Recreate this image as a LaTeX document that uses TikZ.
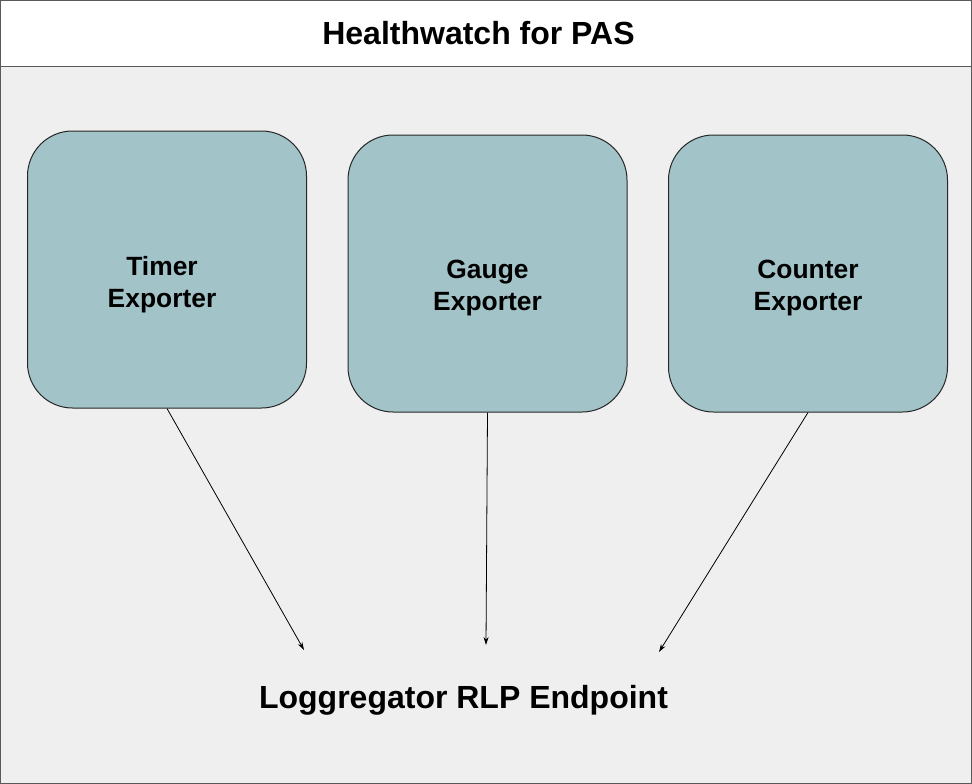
\documentclass[tikz,border=0pt]{standalone}
\usepackage{fontspec}
\setmainfont{Liberation Sans}
\usetikzlibrary{arrows.meta}
\definecolor{framegray}{HTML}{595959}
\definecolor{bodygray}{HTML}{EFEFEF}
\definecolor{boxcyan}{HTML}{A2C4C9}
\definecolor{boxline}{HTML}{262626}
\tikzset{
  exporter/.style={draw=boxline, line width=1pt, fill=boxcyan, rounded corners=45pt,
    minimum width=279pt, minimum height=277pt, inner sep=0pt, anchor=north west},
  boxtext/.style={font=\fontsize{26.4}{32}\selectfont\bfseries, align=center, text=black},
  bigtext/.style={font=\fontsize{32}{38}\selectfont\bfseries, text=black, inner sep=0pt},
  flow/.style={-{Stealth[length=8pt,width=5pt]}, line width=0.8pt, black}
}
\begin{document}
\begin{tikzpicture}[x=1pt,y=-1pt]
\useasboundingbox (0,0) rectangle (972,784);
% frame
\fill[white] (0,0) rectangle (972,66);
\fill[bodygray] (0,66) rectangle (972,784);
\draw[framegray, line width=1.3pt] (0.65,0.65) rectangle (971.35,783.35);
\draw[framegray, line width=1.3pt] (0,66.5) -- (972,66.5);
\node[bigtext] (title) at (478.5,33) {Healthwatch for PAS};
% boxes
\node[exporter, label={[boxtext, xshift=-5pt, yshift=-15pt]center:Timer\\Exporter}] (timer) at (27,130.5) {};
\node[exporter, label={[boxtext, yshift=-15pt]center:Gauge\\Exporter}] (gauge) at (347.5,134.5) {};
\node[exporter, label={[boxtext, yshift=-15pt]center:Counter\\Exporter}] (counter) at (668,134.5) {};
% endpoint
\node[bigtext] (rlp) at (463.5,700) {Loggregator RLP Endpoint};
\coordinate (in1) at (304,650);
\coordinate (in2) at (486,645);
\coordinate (in3) at (659,652);
\draw[flow] (timer.south) -- (in1);
\draw[flow] (gauge.south) -- (in2);
\draw[flow] (counter.south) -- (in3);
\end{tikzpicture}
\end{document}
